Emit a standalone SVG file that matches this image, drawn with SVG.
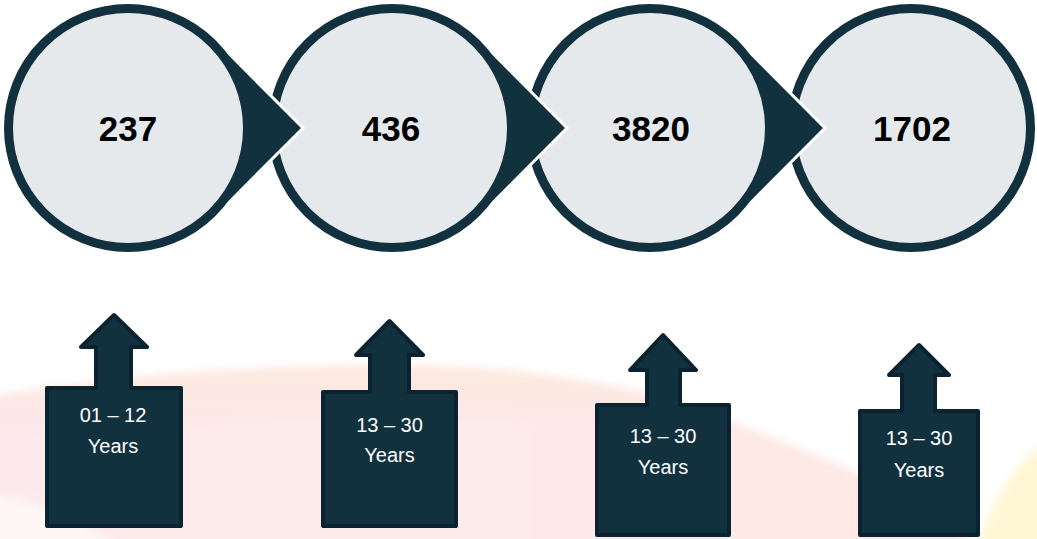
<svg xmlns="http://www.w3.org/2000/svg" width="1037" height="539" viewBox="0 0 1037 539">
  <defs>
    <linearGradient id="bgGrad" x1="0" y1="0" x2="1" y2="0">
      <stop offset="0" stop-color="#fde6ea"/>
      <stop offset="0.5" stop-color="#fde8e6"/>
      <stop offset="1" stop-color="#fde4de"/>
    </linearGradient>
    <linearGradient id="peach" x1="0" y1="0" x2="0" y2="1">
      <stop offset="0" stop-color="#fde9da"/>
      <stop offset="1" stop-color="#fde6ea"/>
    </linearGradient>
    <filter id="soft" x="-10%" y="-10%" width="120%" height="120%">
      <feGaussianBlur stdDeviation="4"/>
    </filter>
    <style>
      .ring { fill: #e6e9ec; stroke: #12313f; stroke-width: 9; }
      .ptr { fill: #12313f; stroke: #ffffff; stroke-width: 3; stroke-linejoin: miter; }
      .num { font-family: "Liberation Sans", Arial, sans-serif; font-weight: bold; font-size: 35px; fill: #000000; text-anchor: middle; }
      .box { fill: #12313f; stroke: #0b2230; stroke-width: 4; stroke-linejoin: round; }
      .lbl { font-family: "Liberation Sans", Arial, sans-serif; font-size: 20px; fill: #ffffff; text-anchor: middle; }
    </style>
  </defs>

  <rect x="0" y="0" width="1037" height="539" fill="#ffffff"/>

  <g id="background" filter="url(#soft)">
    <path d="M-30,400 C120,374 260,364 420,366 C560,368 660,394 760,432 C830,460 880,482 920,502 L990,560 L-30,560 Z" fill="url(#bgGrad)" opacity="0.85"/>
    <path d="M-30,400 C120,374 260,364 420,366 C520,368 600,380 680,400 L680,432 C560,412 380,412 -30,432 Z" fill="url(#peach)" opacity="0.75"/>
    <path d="M1060,430 C1010,465 990,500 975,560 L1060,560 Z" fill="#fff6cf" opacity="0.9"/>
    <path d="M-30,490 C40,500 90,520 130,560 L-30,560 Z" fill="#ffffff" opacity="0.6"/>
  </g>

  <g id="node-4">
    <circle class="ring" cx="911" cy="128" r="119.5"/>
    <text class="num" x="912" y="141">1702</text>
  </g>

  <g id="node-3">
    <polygon class="ptr" points="737.7,40.3 825,128 737.7,215.7"/>
    <circle class="ring" cx="650" cy="128" r="119.5"/>
    <text class="num" x="651" y="141">3820</text>
  </g>

  <g id="node-2">
    <polygon class="ptr" points="479.7,40.3 567,128 479.7,215.7"/>
    <circle class="ring" cx="392" cy="128" r="119.5"/>
    <text class="num" x="391" y="141">436</text>
  </g>

  <g id="node-1">
    <polygon class="ptr" points="215.7,40.3 303,128 215.7,215.7"/>
    <circle class="ring" cx="128" cy="128" r="119.5"/>
    <text class="num" x="128" y="141">237</text>
  </g>

  <g id="connectors"></g>

  <g id="age-1">
    <path class="box" d="M47,388 H96 V347 H81 L114,315 L147,347 H131 V388 H181 V526 H47 Z"/>
    <text class="lbl" x="113" y="422">01 – 12</text>
    <text class="lbl" x="113" y="453">Years</text>
  </g>

  <g id="age-2">
    <path class="box" d="M323,392 H370 V355 H356 L389.5,321 L423,355 H409 V392 H456 V526 H323 Z"/>
    <text class="lbl" x="389.5" y="432">13 – 30</text>
    <text class="lbl" x="389.5" y="462">Years</text>
  </g>

  <g id="age-3">
    <path class="box" d="M597,405 H647 V370 H630 L663,335 L696,370 H680 V405 H729 V535 H597 Z"/>
    <text class="lbl" x="663" y="443">13 – 30</text>
    <text class="lbl" x="663" y="474">Years</text>
  </g>

  <g id="age-4">
    <path class="box" d="M860,411 H902 V375 H889 L919,345 L949,375 H935 V411 H978 V535 H860 Z"/>
    <text class="lbl" x="919" y="445">13 – 30</text>
    <text class="lbl" x="919" y="477">Years</text>
  </g>
</svg>
